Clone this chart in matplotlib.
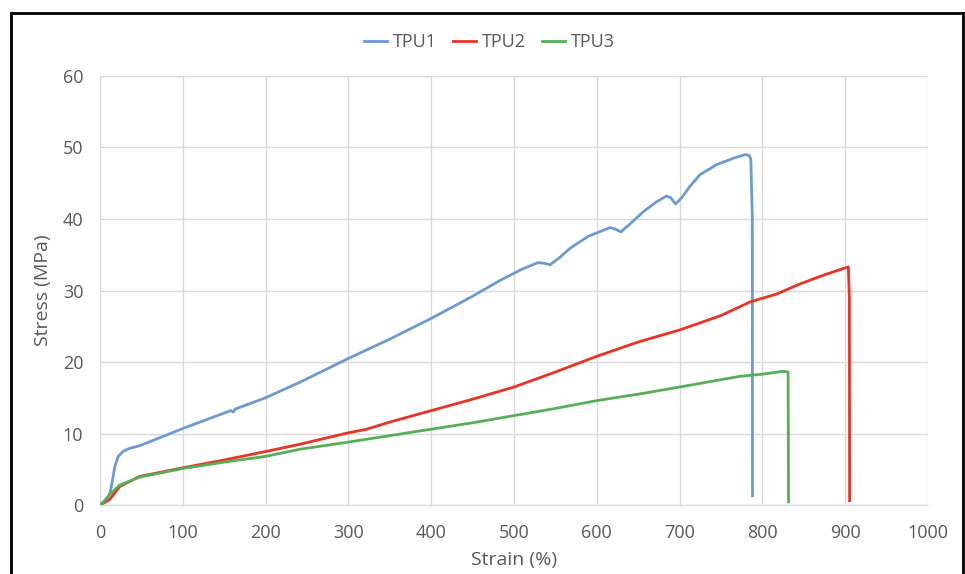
import matplotlib.pyplot as plt
from matplotlib.lines import Line2D

# Stress-strain curves
tpu1_strain = [0, 5, 10, 12, 15, 18, 22, 28, 35, 48, 70, 100, 130, 158, 161, 163, 200,
               242, 300, 350, 400, 450, 483, 510, 529, 537, 543.5, 555, 567.6, 590,
               616, 622, 629, 640, 656, 672, 684, 689, 695, 702, 712, 724.6, 744.7,
               765, 779, 784, 786, 787.8, 788.0]
tpu1_stress = [0, 0.5, 1.2, 1.6, 3.4, 5.4, 6.8, 7.5, 7.9, 8.3, 9.3, 10.7, 12.0, 13.2, 13.0,
               13.4, 15.0, 17.2, 20.5, 23.2, 26.1, 29.2, 31.4, 33.0, 33.9, 33.8, 33.6,
               34.6, 35.9, 37.6, 38.8, 38.6, 38.2, 39.3, 41.0, 42.4, 43.2, 43.0, 42.1,
               42.9, 44.5, 46.2, 47.6, 48.5, 49.0, 48.9, 48.4, 40.0, 1.3]

tpu2_strain = [0, 5, 12, 24, 48, 100, 150, 201, 241.5, 300, 318, 322, 350, 400, 450, 500,
               550, 600, 650, 700.5, 750, 785, 817, 845, 875, 903.7, 905, 905.3]
tpu2_stress = [0, 0.3, 0.8, 2.6, 4.0, 5.2, 6.3, 7.5, 8.5, 10.1, 10.5, 10.6, 11.6, 13.2,
               14.8, 16.5, 18.6, 20.8, 22.8, 24.5, 26.5, 28.4, 29.5, 30.9, 32.2, 33.3,
               29.0, 0.6]

tpu3_strain = [0, 5, 12, 24, 48, 100, 150, 200, 241.5, 300, 350, 400, 450, 500, 545, 600,
               650, 700, 773, 800, 825, 831, 831.5]
tpu3_stress = [0, 0.5, 1.5, 2.8, 3.9, 5.1, 6.0, 6.8, 7.8, 8.8, 9.7, 10.6, 11.5, 12.5,
               13.4, 14.6, 15.5, 16.5, 18.0, 18.3, 18.7, 18.6, 0.45]

series = [("TPU1", tpu1_strain, tpu1_stress, "#6b9bd2"),
          ("TPU2", tpu2_strain, tpu2_stress, "#ea3323"),
          ("TPU3", tpu3_strain, tpu3_stress, "#55b055")]

x_ticks = list(range(0, 1001, 100))
y_ticks = list(range(0, 61, 10))

plt.rcParams['font.family'] = ['Open Sans', 'DejaVu Sans']

fig = plt.figure(figsize=(9.65, 5.74), dpi=100)
ax = fig.add_axes([0.1036, 0.1202, 0.8581, 0.7474])

for name, xs, ys, color in series:
    ax.plot(xs, ys, color=color, lw=2, label=name, solid_joinstyle='round')

ax.set_xlim(0, 1000)
ax.set_ylim(0, 60)
ax.set_xticks(x_ticks)
ax.set_yticks(y_ticks)
ax.grid(True, color="#d9d9d9", lw=1)
ax.set_axisbelow(True)
for side in ["top", "right", "left"]:
    ax.spines[side].set_visible(False)
ax.spines["bottom"].set_color("#d9d9d9")
ax.tick_params(length=0, labelsize=13, colors="#595959")
ax.tick_params(axis="x", pad=14)
ax.tick_params(axis="y", pad=12)

ax.set_xlabel("Strain (%)", fontsize=14, color="#595959", labelpad=6)
ax.set_ylabel("Stress (MPa)", fontsize=14, color="#595959", labelpad=8)

ax.legend(loc="lower center", bbox_to_anchor=(0.47, 1.02), ncol=3, frameon=False,
          fontsize=13, labelcolor="#595959", handlelength=1.3, handletextpad=0.3,
          columnspacing=0.9)

# black frame around the chart (bottom edge runs off the image)
frame = dict(color="black", lw=2, transform=fig.transFigure)
fig.add_artist(Line2D([0.0114, 0.998], [0.977, 0.977], **frame))
fig.add_artist(Line2D([0.0114, 0.0114], [0.0, 0.977], **frame))
fig.add_artist(Line2D([0.998, 0.998], [0.0, 0.977], **frame))

fig.savefig("out.png", dpi=100)
